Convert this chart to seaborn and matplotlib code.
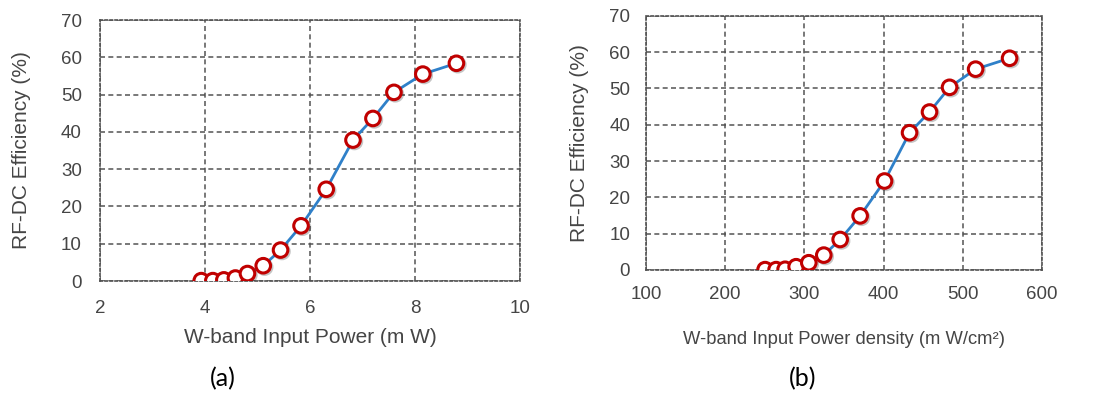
import matplotlib
matplotlib.use("Agg")
import matplotlib.pyplot as plt
import matplotlib.patheffects as pe
import numpy as np
import pandas as pd
import seaborn as sns

# RF-DC efficiency versus W-band input power (a) and input power density (b)
power_mw = [3.93, 4.15, 4.36, 4.58, 4.81, 5.11, 5.44, 5.83, 6.31, 6.82, 7.20, 7.60, 8.15, 8.79]
efficiency_a = [0.1, 0.1, 0.3, 0.8, 2.0, 4.1, 8.3, 14.8, 24.6, 37.8, 43.6, 50.6, 55.5, 58.4]

density_mw_cm2 = [250.4, 264.3, 275.7, 289.6, 305.6, 324.5, 345.2, 370.4, 401.2, 432.8, 458.0, 483.3, 516.2, 559.1]
efficiency_b = [0.1, 0.1, 0.2, 0.9, 2.0, 4.1, 8.4, 14.9, 24.5, 37.8, 43.5, 50.3, 55.3, 58.3]

xticks_a = [2, 4, 6, 8, 10]
xticks_b = [100, 200, 300, 400, 500, 600]
yticks = [0, 10, 20, 30, 40, 50, 60, 70]

df_a = pd.DataFrame({"x": power_mw, "y": efficiency_a})
df_b = pd.DataFrame({"x": density_mw_cm2, "y": efficiency_b})

sns.set_theme(style="white")
plt.rcParams["font.family"] = ["Liberation Sans", "DejaVu Sans"]

TEXT = "#454545"
GRID = "#505050"
LINE = "#2f80c9"
MARK = "#c00000"

fig = plt.figure(figsize=(10.96, 3.96), dpi=100)
ax_a = fig.add_axes([0.0912, 0.2904, 0.3832, 0.659])
ax_b = fig.add_axes([0.5894, 0.3182, 0.3613, 0.642])


def draw(ax, df, xticks, xlabel, xlabel_size, xpad, ypad, ylab_x, xlab_y):
    sns.lineplot(data=df, x="x", y="y", ax=ax, color=LINE, linewidth=2.0,
                 sort=False, zorder=3)
    ax.plot(df["x"], df["y"], linestyle="none", marker="o", markersize=10.5,
            markerfacecolor="white", markeredgecolor=MARK, markeredgewidth=2.2,
            zorder=4,
            path_effects=[pe.SimpleLineShadow(offset=(1, -1), alpha=0.25),
                          pe.Normal()])
    ax.set_xlim(xticks[0], xticks[-1])
    ax.set_ylim(0, 70)
    ax.set_xticks(xticks)
    ax.set_yticks(yticks)
    ax.grid(True, color=GRID, linestyle=(0, (3, 2)), linewidth=1.2, alpha=0.9)
    for s in ax.spines.values():
        s.set_visible(True)
        s.set_color(GRID)
        s.set_linestyle((0, (1.5, 1.5)))
        s.set_linewidth(1.2)
    ax.tick_params(axis="x", length=0, pad=xpad, labelsize=13.5, labelcolor=TEXT)
    ax.tick_params(axis="y", length=0, pad=ypad, labelsize=13.5, labelcolor=TEXT)
    ax.set_ylabel("RF-DC Efficiency (%)", fontsize=15, color=TEXT, va="center")
    ax.set_xlabel(xlabel, fontsize=xlabel_size, color=TEXT, va="center")
    ax.yaxis.set_label_coords(ylab_x, 0.5)
    ax.xaxis.set_label_coords(0.5, xlab_y)


draw(ax_a, df_a, xticks_a, "W-band Input Power (m W)", 15, 14, 13, -0.186, -0.215)
draw(ax_b, df_b, xticks_b, "W-band Input Power density (m W/cm²)", 13.2, 11.5, 11.5, -0.167, -0.275)

fig.text(0.2035, 0.045, "(a)", fontsize=18, color="black", ha="center", va="center",
         family=["Lato", "DejaVu Sans"])
fig.text(0.7327, 0.045, "(b)", fontsize=18, color="black", ha="center", va="center",
         family=["Lato", "DejaVu Sans"])

fig.savefig("out.png", dpi=100, facecolor="white")
